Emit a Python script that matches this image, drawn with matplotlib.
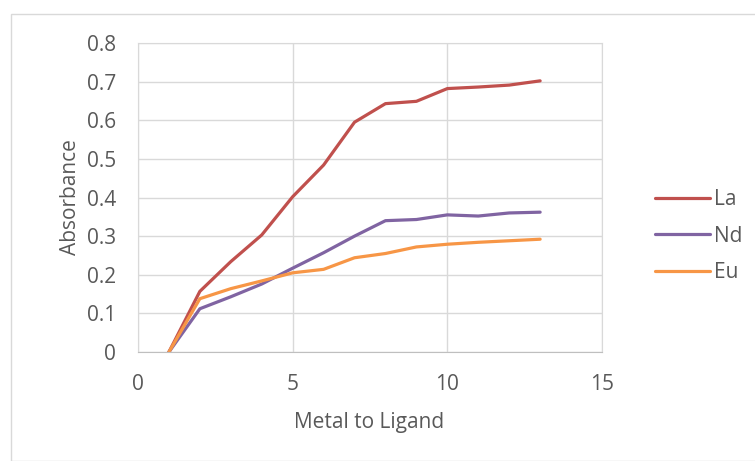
import matplotlib.pyplot as plt
from matplotlib.patches import Rectangle

# data
ratio = [1, 2, 3, 4, 5, 6, 7, 8, 9, 10, 11, 12, 13]
la = [0, 0.157, 0.234, 0.303, 0.402, 0.484, 0.595, 0.643, 0.649, 0.682, 0.686, 0.691, 0.702]
nd = [0, 0.112, 0.143, 0.176, 0.217, 0.257, 0.300, 0.340, 0.343, 0.355, 0.352, 0.360, 0.362]
eu = [0, 0.138, 0.164, 0.184, 0.205, 0.214, 0.244, 0.255, 0.272, 0.279, 0.284, 0.288, 0.292]
series_names = ['La', 'Nd', 'Eu']
x_ticks = [0, 5, 10, 15]
y_ticks = [0, 0.1, 0.2, 0.3, 0.4, 0.5, 0.6, 0.7, 0.8]

plt.rcParams['font.family'] = ['Open Sans', 'DejaVu Sans']
txt = '#595959'
grid = '#D9D9D9'

fig = plt.figure(figsize=(7.55, 4.61), dpi=100)
W, H = 755, 461

# outer chart frame
fig.patches.append(Rectangle((11 / W, 0), 1, 1 - 14 / H, transform=fig.transFigure,
                             fill=False, edgecolor='#D9D9D9', linewidth=1))

ax = fig.add_axes([138 / W, 1 - 352 / H, (602 - 138) / W, (352 - 43) / H])

colors = ['#C0504D', '#8064A2', '#F79646']
for ys, name, c in zip([la, nd, eu], series_names, colors):
    ax.plot(ratio, ys, color=c, linewidth=2.3, label=name, solid_capstyle='round')

ax.set_xlim(0, 15)
ax.set_ylim(0, 0.8)
ax.set_xticks(x_ticks)
ax.set_yticks(y_ticks)
ax.set_yticklabels(['0'] + ['%.1f' % v for v in y_ticks[1:]])
ax.grid(True, color=grid, linewidth=1)
ax.set_axisbelow(True)
for s in ax.spines.values():
    s.set_color(grid)
ax.spines['bottom'].set_color('#BFBFBF')
ax.tick_params(length=0, labelsize=15, colors=txt)
ax.tick_params(axis='x', pad=16)
ax.tick_params(axis='y', pad=16)

ax.set_xlabel('Metal to Ligand', fontsize=15, color=txt)
ax.set_ylabel('Absorbance', fontsize=15, color=txt)
ax.xaxis.set_label_coords(0.498, -0.195)
ax.yaxis.set_label_coords(-0.123, 0.5)

ax.legend(loc='center left', bbox_to_anchor=(636 / W, 1 - 236 / H), bbox_transform=fig.transFigure,
          frameon=False, fontsize=15, labelcolor=txt, handlelength=2.65,
          handletextpad=0.2, labelspacing=0.75)

fig.savefig('out.png', dpi=100)
